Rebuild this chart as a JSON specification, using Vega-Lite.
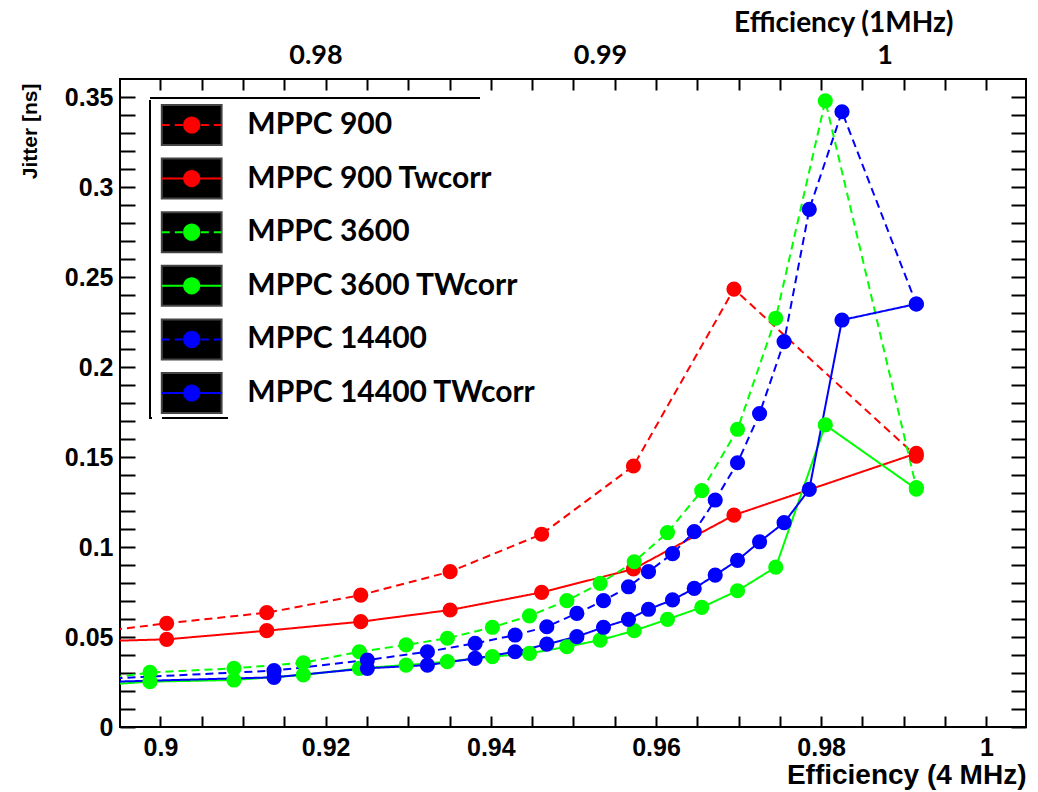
{
  "$schema": "https://vega.github.io/schema/vega-lite/v6.json",
  "width": 906,
  "height": 648,
  "autosize": {"type": "none"},
  "padding": {"left": 120, "top": 79, "right": 12, "bottom": 65},
  "background": "white",
  "config": {
    "view": {"stroke": "black", "strokeWidth": 2},
    "axis": {"grid": false, "domain": false, "tickColor": "black", "tickWidth": 2, "labelColor": "black", "titleColor": "black"}
  },
  "datasets": {
    "jit": [
      {"series": "MPPC 900", "eff": 0.885, "jitter": 0.0487},
      {"series": "MPPC 900", "eff": 0.90075, "jitter": 0.0576},
      {"series": "MPPC 900", "eff": 0.91287, "jitter": 0.0635},
      {"series": "MPPC 900", "eff": 0.92425, "jitter": 0.0733},
      {"series": "MPPC 900", "eff": 0.93507, "jitter": 0.0863},
      {"series": "MPPC 900", "eff": 0.94615, "jitter": 0.1071},
      {"series": "MPPC 900", "eff": 0.95727, "jitter": 0.145},
      {"series": "MPPC 900", "eff": 0.96944, "jitter": 0.2433},
      {"series": "MPPC 900", "eff": 0.99152, "jitter": 0.1505},
      {"series": "MPPC 900 Twcorr", "eff": 0.885, "jitter": 0.0467},
      {"series": "MPPC 900 Twcorr", "eff": 0.90075, "jitter": 0.0487},
      {"series": "MPPC 900 Twcorr", "eff": 0.91287, "jitter": 0.0535},
      {"series": "MPPC 900 Twcorr", "eff": 0.92425, "jitter": 0.0585},
      {"series": "MPPC 900 Twcorr", "eff": 0.93507, "jitter": 0.065},
      {"series": "MPPC 900 Twcorr", "eff": 0.94615, "jitter": 0.0748},
      {"series": "MPPC 900 Twcorr", "eff": 0.95727, "jitter": 0.0878},
      {"series": "MPPC 900 Twcorr", "eff": 0.96944, "jitter": 0.1177},
      {"series": "MPPC 900 Twcorr", "eff": 0.99152, "jitter": 0.152},
      {"series": "MPPC 3600", "eff": 0.885, "jitter": 0.0215},
      {"series": "MPPC 3600", "eff": 0.89873, "jitter": 0.0303},
      {"series": "MPPC 3600", "eff": 0.9089, "jitter": 0.0326},
      {"series": "MPPC 3600", "eff": 0.9173, "jitter": 0.0357},
      {"series": "MPPC 3600", "eff": 0.92408, "jitter": 0.0418},
      {"series": "MPPC 3600", "eff": 0.92974, "jitter": 0.0456},
      {"series": "MPPC 3600", "eff": 0.93474, "jitter": 0.0493},
      {"series": "MPPC 3600", "eff": 0.94019, "jitter": 0.0554},
      {"series": "MPPC 3600", "eff": 0.94468, "jitter": 0.0617},
      {"series": "MPPC 3600", "eff": 0.94921, "jitter": 0.0702},
      {"series": "MPPC 3600", "eff": 0.95324, "jitter": 0.0798},
      {"series": "MPPC 3600", "eff": 0.95736, "jitter": 0.0918},
      {"series": "MPPC 3600", "eff": 0.96139, "jitter": 0.108},
      {"series": "MPPC 3600", "eff": 0.96554, "jitter": 0.1313},
      {"series": "MPPC 3600", "eff": 0.96987, "jitter": 0.1654},
      {"series": "MPPC 3600", "eff": 0.9745, "jitter": 0.2271},
      {"series": "MPPC 3600", "eff": 0.9805, "jitter": 0.3479},
      {"series": "MPPC 3600", "eff": 0.99152, "jitter": 0.133},
      {"series": "MPPC 3600 TWcorr", "eff": 0.885, "jitter": 0.021},
      {"series": "MPPC 3600 TWcorr", "eff": 0.89873, "jitter": 0.0252},
      {"series": "MPPC 3600 TWcorr", "eff": 0.9089, "jitter": 0.0261},
      {"series": "MPPC 3600 TWcorr", "eff": 0.9173, "jitter": 0.0289},
      {"series": "MPPC 3600 TWcorr", "eff": 0.92408, "jitter": 0.0326},
      {"series": "MPPC 3600 TWcorr", "eff": 0.92974, "jitter": 0.0344},
      {"series": "MPPC 3600 TWcorr", "eff": 0.93474, "jitter": 0.0363},
      {"series": "MPPC 3600 TWcorr", "eff": 0.94019, "jitter": 0.0391},
      {"series": "MPPC 3600 TWcorr", "eff": 0.94468, "jitter": 0.0409},
      {"series": "MPPC 3600 TWcorr", "eff": 0.94921, "jitter": 0.0446},
      {"series": "MPPC 3600 TWcorr", "eff": 0.95324, "jitter": 0.0483},
      {"series": "MPPC 3600 TWcorr", "eff": 0.95736, "jitter": 0.0535},
      {"series": "MPPC 3600 TWcorr", "eff": 0.96139, "jitter": 0.0598},
      {"series": "MPPC 3600 TWcorr", "eff": 0.96554, "jitter": 0.0665},
      {"series": "MPPC 3600 TWcorr", "eff": 0.96987, "jitter": 0.0757},
      {"series": "MPPC 3600 TWcorr", "eff": 0.9745, "jitter": 0.0888},
      {"series": "MPPC 3600 TWcorr", "eff": 0.9805, "jitter": 0.1678},
      {"series": "MPPC 3600 TWcorr", "eff": 0.99152, "jitter": 0.1322},
      {"series": "MPPC 14400", "eff": 0.885, "jitter": 0.025},
      {"series": "MPPC 14400", "eff": 0.91375, "jitter": 0.0313},
      {"series": "MPPC 14400", "eff": 0.92505, "jitter": 0.0372},
      {"series": "MPPC 14400", "eff": 0.93232, "jitter": 0.0418},
      {"series": "MPPC 14400", "eff": 0.9381, "jitter": 0.0465},
      {"series": "MPPC 14400", "eff": 0.94294, "jitter": 0.0511},
      {"series": "MPPC 14400", "eff": 0.94678, "jitter": 0.0557},
      {"series": "MPPC 14400", "eff": 0.95042, "jitter": 0.0631},
      {"series": "MPPC 14400", "eff": 0.95364, "jitter": 0.0702},
      {"series": "MPPC 14400", "eff": 0.95667, "jitter": 0.0779},
      {"series": "MPPC 14400", "eff": 0.95909, "jitter": 0.0863},
      {"series": "MPPC 14400", "eff": 0.962, "jitter": 0.0963},
      {"series": "MPPC 14400", "eff": 0.96463, "jitter": 0.1085},
      {"series": "MPPC 14400", "eff": 0.96717, "jitter": 0.1261},
      {"series": "MPPC 14400", "eff": 0.96987, "jitter": 0.1468},
      {"series": "MPPC 14400", "eff": 0.97254, "jitter": 0.1741},
      {"series": "MPPC 14400", "eff": 0.97551, "jitter": 0.2141},
      {"series": "MPPC 14400", "eff": 0.97856, "jitter": 0.2876},
      {"series": "MPPC 14400", "eff": 0.98252, "jitter": 0.3418},
      {"series": "MPPC 14400", "eff": 0.99152, "jitter": 0.235},
      {"series": "MPPC 14400 TWcorr", "eff": 0.885, "jitter": 0.024},
      {"series": "MPPC 14400 TWcorr", "eff": 0.91375, "jitter": 0.0276},
      {"series": "MPPC 14400 TWcorr", "eff": 0.92505, "jitter": 0.0326},
      {"series": "MPPC 14400 TWcorr", "eff": 0.93232, "jitter": 0.0344},
      {"series": "MPPC 14400 TWcorr", "eff": 0.9381, "jitter": 0.0381},
      {"series": "MPPC 14400 TWcorr", "eff": 0.94294, "jitter": 0.0418},
      {"series": "MPPC 14400 TWcorr", "eff": 0.94678, "jitter": 0.046},
      {"series": "MPPC 14400 TWcorr", "eff": 0.95042, "jitter": 0.0502},
      {"series": "MPPC 14400 TWcorr", "eff": 0.95364, "jitter": 0.0554},
      {"series": "MPPC 14400 TWcorr", "eff": 0.95667, "jitter": 0.0598},
      {"series": "MPPC 14400 TWcorr", "eff": 0.95909, "jitter": 0.0654},
      {"series": "MPPC 14400 TWcorr", "eff": 0.962, "jitter": 0.0706},
      {"series": "MPPC 14400 TWcorr", "eff": 0.96463, "jitter": 0.077},
      {"series": "MPPC 14400 TWcorr", "eff": 0.96717, "jitter": 0.0844},
      {"series": "MPPC 14400 TWcorr", "eff": 0.96987, "jitter": 0.0926},
      {"series": "MPPC 14400 TWcorr", "eff": 0.97254, "jitter": 0.1029},
      {"series": "MPPC 14400 TWcorr", "eff": 0.97551, "jitter": 0.1135},
      {"series": "MPPC 14400 TWcorr", "eff": 0.97856, "jitter": 0.132},
      {"series": "MPPC 14400 TWcorr", "eff": 0.98252, "jitter": 0.2261},
      {"series": "MPPC 14400 TWcorr", "eff": 0.99152, "jitter": 0.235}
    ]
  },
  "data": {"name": "jit"},
  "layer": [
    {
      "mark": {"type": "point", "filled": true, "opacity": 0, "clip": true},
      "encoding": {
        "x": {
          "field": "eff", "type": "quantitative",
          "scale": {"domain": [0.97313, 1.00497], "zero": false, "nice": false},
          "axis": {
            "orient": "top", "values": [0.98, 0.99, 1], "ticks": false, "tickSize": 0,
            "labelExpr": "datum.value === 1 ? '1' : format(datum.value, '.2f')",
            "labelFont": "Lato", "labelFontWeight": "bold", "labelFontSize": 27,
            "labelPadding": 10, "labelFlush": false, "labelOverlap": false,
            "title": "Efficiency (1MHz)", "titleFont": "Lato", "titleFontWeight": "bold", "titleFontSize": 28,
            "titleX": 833, "titleY": -56, "titleAlign": "right", "titleBaseline": "middle"
          }
        },
        "color": {
          "field": "series", "type": "nominal",
          "scale": {
            "domain": ["MPPC 900", "MPPC 900 Twcorr", "MPPC 3600", "MPPC 3600 TWcorr", "MPPC 14400", "MPPC 14400 TWcorr"],
            "range": ["black", "black", "black", "black", "black", "black"]
          },
          "legend": {
            "orient": "none", "legendX": 30, "legendY": 19, "title": null, "direction": "vertical",
            "padding": 0, "rowPadding": 1.6, "symbolSize": 2704, "symbolStrokeWidth": 2,
            "symbolOffset": 14.7, "labelOffset": 28.6, "labelFont": "Lato", "labelFontSize": 30,
            "labelFontWeight": "bold", "labelLimit": 600, "labelColor": "black", "labelBaseline": "middle",
            "symbolType": "M-1.15,-0.77H1.15V0.77H-1.15Z", "symbolStrokeColor": "#444", "symbolOpacity": 1,
            "encode": {"legend": {"update": {"stroke": {"value": "black"}, "strokeWidth": {"value": 2}, "strokeDash": {"value": [330, 684, 66, 10, 320]}}}}
          }
        }
      }
    },
    {
      "mark": {"type": "line", "clip": true, "strokeWidth": 2},
      "encoding": {
        "x": {
          "field": "eff", "type": "quantitative",
          "scale": {"domain": [0.8951, 1.0048], "zero": false, "nice": false},
          "axis": {
            "orient": "bottom",
            "values": [0.895, 0.9, 0.905, 0.91, 0.915, 0.92, 0.925, 0.93, 0.935, 0.94, 0.945, 0.95, 0.955, 0.96, 0.965, 0.97, 0.975, 0.98, 0.985, 0.99, 0.995, 1.0],
            "tickSize": -11,
            "labelExpr": "round(datum.value*1000) % 20 === 0 ? format(datum.value, '~g') : ''",
            "labelFont": "Liberation Sans", "labelFontWeight": "bold", "labelFontSize": 25,
            "labelPadding": 19, "labelFlush": false, "labelOverlap": false, "labelBaseline": "top",
            "title": "Efficiency (4 MHz)", "titleFont": "Liberation Sans", "titleFontWeight": "bold", "titleFontSize": 28,
            "titleX": 906, "titleY": 48, "titleAlign": "right", "titleBaseline": "middle",
            "encode": {"ticks": {"update": {"y2": {"signal": "round(datum.value*1000) % 20 === 0 ? -20 : -11"}}}}
          }
        },
        "y": {
          "field": "jitter", "type": "quantitative",
          "scale": {"domain": [0, 0.36], "zero": false, "nice": false},
          "axis": {
            "orient": "left",
            "values": [0, 0.01, 0.02, 0.03, 0.04, 0.05, 0.06, 0.07, 0.08, 0.09, 0.1, 0.11, 0.12, 0.13, 0.14, 0.15, 0.16, 0.17, 0.18, 0.19, 0.2, 0.21, 0.22, 0.23, 0.24, 0.25, 0.26, 0.27, 0.28, 0.29, 0.3, 0.31, 0.32, 0.33, 0.34, 0.35],
            "tickSize": -15,
            "labelExpr": "round(datum.value*100) % 5 === 0 ? format(datum.value, '~g') : ''",
            "labelFont": "Liberation Sans", "labelFontWeight": "bold", "labelFontSize": 25,
            "labelPadding": 22, "labelFlush": false, "labelOverlap": false,
            "title": "Jitter [ns]", "titleFont": "Liberation Sans", "titleFontWeight": "bold", "titleFontSize": 21,
            "titleAngle": -90, "titleX": -90, "titleY": 4, "titleAlign": "right", "titleBaseline": "middle",
            "encode": {"ticks": {"update": {"x2": {"signal": "round(datum.value*100) % 5 === 0 ? 28 : 15"}}}}
          }
        },
        "color": {
          "field": "series", "type": "nominal",
          "scale": {
            "domain": ["MPPC 900", "MPPC 900 Twcorr", "MPPC 3600", "MPPC 3600 TWcorr", "MPPC 14400", "MPPC 14400 TWcorr"],
            "range": ["#ff0000", "#ff0000", "#00ff00", "#00ff00", "#0000ff", "#0000ff"]
          },
          "legend": {
            "orient": "none", "legendX": 30, "legendY": 19, "title": null, "direction": "vertical",
            "padding": 0, "rowPadding": 1.6, "symbolSize": 2704, "symbolStrokeWidth": 2,
            "symbolOffset": 14.7, "labelOffset": 28.6, "labelFont": "Lato", "labelFontSize": 30,
            "labelFontWeight": "bold", "labelLimit": 600, "labelOpacity": 0, "labelBaseline": "middle",
            "symbolType": "M-1.15,-0.77M-1.15,0H1.15M1.15,0.77", "symbolFillColor": "transparent", "symbolOpacity": 1
          }
        },
        "strokeDash": {
          "field": "series", "type": "nominal",
          "scale": {
            "domain": ["MPPC 900", "MPPC 900 Twcorr", "MPPC 3600", "MPPC 3600 TWcorr", "MPPC 14400", "MPPC 14400 TWcorr"],
            "range": [[8, 5], [1, 0], [8, 5], [1, 0], [8, 5], [1, 0]]
          },
          "legend": {
            "orient": "none", "legendX": 30, "legendY": 19, "title": null, "direction": "vertical",
            "padding": 0, "rowPadding": 1.6, "symbolSize": 2704, "symbolStrokeWidth": 2,
            "symbolOffset": 14.7, "labelOffset": 28.6, "labelFont": "Lato", "labelFontSize": 30,
            "labelFontWeight": "bold", "labelLimit": 600, "labelOpacity": 0, "labelBaseline": "middle",
            "symbolType": "M-1.15,-0.77M-1.15,0H1.15M1.15,0.77", "symbolFillColor": "transparent", "symbolOpacity": 1
          }
        }
      }
    },
    {
      "mark": {"type": "point", "filled": true, "opacity": 1, "size": 230, "clip": true},
      "encoding": {
        "x": {
          "field": "eff", "type": "quantitative",
          "scale": {"domain": [0.8951, 1.0048], "zero": false, "nice": false},
          "axis": {
            "orient": "top",
            "values": [0.895, 0.9, 0.905, 0.91, 0.915, 0.92, 0.925, 0.93, 0.935, 0.94, 0.945, 0.95, 0.955, 0.96, 0.965, 0.97, 0.975, 0.98, 0.985, 0.99, 0.995, 1.0],
            "tickSize": -11, "labels": false, "title": null,
            "encode": {"ticks": {"update": {"y2": {"signal": "round(datum.value*1000) % 20 === 0 ? 19 : 11"}}}}
          }
        },
        "y": {
          "field": "jitter", "type": "quantitative",
          "scale": {"domain": [0, 0.36], "zero": false, "nice": false},
          "axis": {
            "orient": "right",
            "values": [0, 0.01, 0.02, 0.03, 0.04, 0.05, 0.06, 0.07, 0.08, 0.09, 0.1, 0.11, 0.12, 0.13, 0.14, 0.15, 0.16, 0.17, 0.18, 0.19, 0.2, 0.21, 0.22, 0.23, 0.24, 0.25, 0.26, 0.27, 0.28, 0.29, 0.3, 0.31, 0.32, 0.33, 0.34, 0.35],
            "tickSize": -15, "labels": false, "title": null,
            "encode": {"ticks": {"update": {"x2": {"signal": "round(datum.value*100) % 5 === 0 ? -30 : -15"}}}}
          }
        },
        "color": {
          "field": "series", "type": "nominal",
          "scale": {
            "domain": ["MPPC 900", "MPPC 900 Twcorr", "MPPC 3600", "MPPC 3600 TWcorr", "MPPC 14400", "MPPC 14400 TWcorr"],
            "range": ["#ff0000", "#ff0000", "#00ff00", "#00ff00", "#0000ff", "#0000ff"]
          },
          "legend": {
            "orient": "none", "legendX": 30, "legendY": 19, "title": null, "direction": "vertical",
            "padding": 0, "rowPadding": 1.6, "symbolSize": 2704, "symbolStrokeWidth": 2,
            "symbolOffset": 14.7, "labelOffset": 28.6, "labelFont": "Lato", "labelFontSize": 30,
            "labelFontWeight": "bold", "labelLimit": 600, "labelOpacity": 0, "labelBaseline": "middle",
            "symbolType": "M-1.15,-0.77M0.33,0A0.33,0.33 0 1,1 -0.33,0A0.33,0.33 0 1,1 0.33,0ZM1.15,0.77",
            "symbolStrokeColor": "transparent", "symbolOpacity": 1
          }
        }
      }
    }
  ],
  "resolve": {"scale": {"x": "independent", "y": "independent", "color": "independent", "strokeDash": "independent"}}
}
